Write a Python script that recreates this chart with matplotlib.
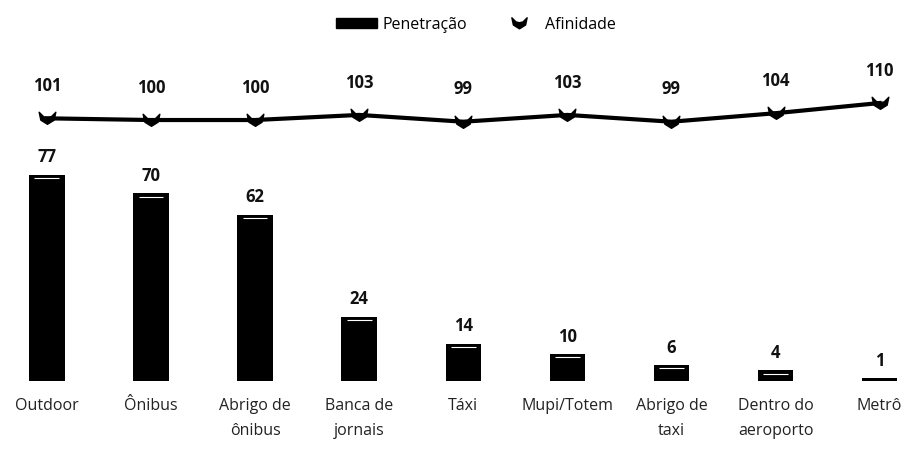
import matplotlib.pyplot as plt
from matplotlib.path import Path
from matplotlib.patches import Patch
from matplotlib.lines import Line2D

categorias = ['Outdoor', 'Ônibus', 'Abrigo de\nônibus', 'Banca de\njornais', 'Táxi',
              'Mupi/Totem', 'Abrigo de\ntaxi', 'Dentro do\naeroporto', 'Metrô']
penetracao = [77, 70, 62, 24, 14, 10, 6, 4, 1]
afinidade = [101, 100, 100, 103, 99, 103, 99, 104, 110]

plt.rcParams['font.family'] = ['Open Sans', 'DejaVu Sans']

# chevron-like marker
verts = [(-1, 0.75), (-0.45, 0.2), (0, 0.1), (0.45, 0.2), (1, 0.75),
         (0.8, -0.2), (0, -0.7), (-0.8, -0.2), (-1, 0.75)]
codes = [Path.MOVETO] + [Path.LINETO] * 7 + [Path.CLOSEPOLY]
chevron = Path(verts, codes)

fig = plt.figure(figsize=(9.15, 4.51), dpi=100)
ax = fig.add_axes([0, 0, 1, 1])
x = list(range(len(categorias)))
w = 0.34

ax.bar(x, penetracao, width=w, color='black', zorder=2)
for i, v in enumerate(penetracao):
    if v > 2:
        ax.hlines(v - 1.2, i - w * 0.35, i + w * 0.35, color='white', lw=0.8, zorder=3)
    ax.text(i, v + 6.5, str(v), ha='center', va='center', fontsize=12,
            fontweight='bold', color='#111111')
    ax.text(i, -6.5, categorias[i], ha='center', va='top', fontsize=11.5,
            color='#222222', linespacing=1.75)

ax.set_xlim(-0.45, 8.34)
ax.set_ylim(-26.1, 142.2)
ax.axis('off')

ax2 = ax.twinx()
ax2.plot(x, afinidade, color='black', lw=3, marker=chevron, markersize=12, zorder=4)
for i, v in enumerate(afinidade):
    ax2.text(i, v + 19, str(v), ha='center', va='center', fontsize=12,
             fontweight='bold', color='#111111')
ax2.set_ylim(-94.7, 170.6)
ax2.set_xlim(-0.45, 8.34)
ax2.axis('off')

handles = [Patch(facecolor='black', edgecolor='black'),
           Line2D([], [], color='none', marker=chevron, markersize=11,
                  markerfacecolor='black', markeredgecolor='black')]
fig.legend(handles, ['Penetração', 'Afinidade'], loc='upper center',
           bbox_to_anchor=(0.52, 0.995), ncol=2, frameon=False, fontsize=11.5,
           handlelength=2.6, handleheight=0.6, columnspacing=2.0, handletextpad=0.3)

fig.savefig('out.png', dpi=100)
